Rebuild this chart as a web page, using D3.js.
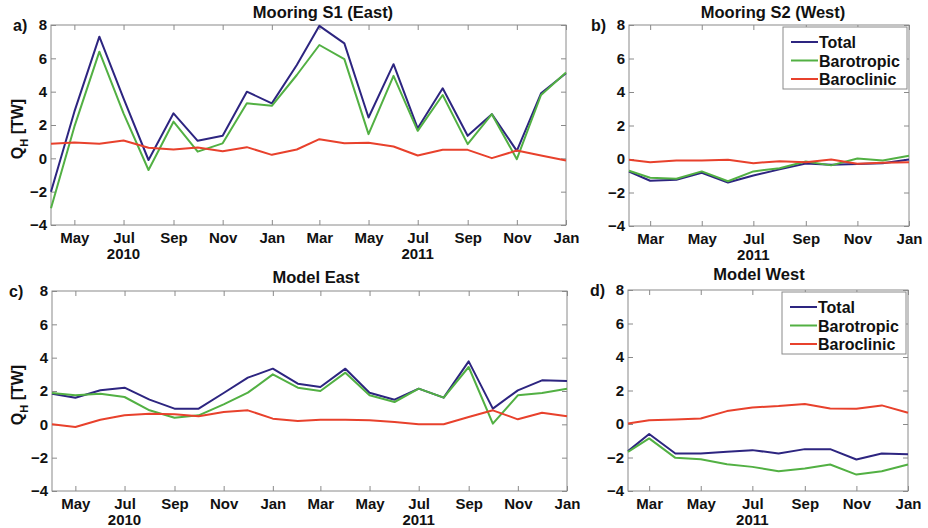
<!DOCTYPE html>
<html>
<head>
<meta charset="utf-8">
<script src="https://cdn.jsdelivr.net/npm/d3@7"></script>
<style>
body { margin: 0; background: #fff; }
text { font-family: "Liberation Sans", Arial, sans-serif; font-weight: bold; fill: #111; }
</style>
</head>
<body>
<div id="viz"></div>
<script>
var width = 928
var height = 528

// dates of the monthly points (first point is the start of the record)
var eastDates = ["2010-04-02", "2010-05-01", "2010-06-01", "2010-07-01", "2010-08-01", "2010-09-01",
    "2010-10-01", "2010-11-01", "2010-12-01", "2011-01-01", "2011-02-01", "2011-03-01", "2011-04-01",
    "2011-05-01", "2011-06-01", "2011-07-01", "2011-08-01", "2011-09-01", "2011-10-01", "2011-11-01",
    "2011-12-01", "2012-01-01"];
var westDates = ["2011-02-04", "2011-03-01", "2011-04-01", "2011-05-01", "2011-06-01", "2011-07-01",
    "2011-08-01", "2011-09-01", "2011-10-01", "2011-11-01", "2011-12-01", "2012-01-01"];

// tick positions and labels
var eastTicks = ["2010-05-01", "2010-07-01", "2010-09-01", "2010-11-01", "2011-01-01", "2011-03-01",
    "2011-05-01", "2011-07-01", "2011-09-01", "2011-11-01", "2012-01-01"];
var westTicks = ["2011-03-01", "2011-05-01", "2011-07-01", "2011-09-01", "2011-11-01", "2012-01-01"];
var eastYearTicks = ["2010-07-01", "2011-07-01"];
var eastYears = ["2010", "2011"];
var westYearTicks = ["2011-07-01"];
var westYears = ["2011"];
var yTicks = [-4, -2, 0, 2, 4, 6, 8];

var seriesNames = ["Total", "Barotropic", "Baroclinic"];
var seriesColors = ["#2d2580", "#52b043", "#e8412c"];

// a) Mooring S1 (East)
var s1Total = [-2.0, 2.8, 7.3, 3.6, -0.1, 2.7, 1.05, 1.35, 4.0, 3.3, 5.6, 7.95, 6.9, 2.45, 5.65, 1.8, 4.2, 1.35, 2.65, 0.45, 3.9, 5.1];
var s1Baro = [-3.0, 1.9, 6.4, 2.7, -0.7, 2.2, 0.4, 0.9, 3.3, 3.15, 5.0, 6.8, 5.95, 1.45, 4.95, 1.65, 3.8, 0.85, 2.65, -0.05, 3.8, 5.15];
var s1Clin = [0.87, 0.95, 0.87, 1.07, 0.63, 0.53, 0.65, 0.43, 0.67, 0.21, 0.53, 1.15, 0.91, 0.93, 0.71, 0.17, 0.51, 0.51, 0.01, 0.47, 0.17, -0.13];

// b) Mooring S2 (West)
var s2Total = [-0.75, -1.3, -1.24, -0.82, -1.4, -0.98, -0.62, -0.27, -0.35, -0.3, -0.25, -0.03];
var s2Baro = [-0.7, -1.12, -1.18, -0.74, -1.33, -0.74, -0.55, -0.15, -0.38, 0.03, -0.09, 0.2];
var s2Clin = [-0.05, -0.19, -0.09, -0.09, -0.05, -0.25, -0.13, -0.19, -0.03, -0.29, -0.23, -0.19];

// c) Model East
var mEastTotal = [1.84, 1.6, 2.04, 2.2, 1.48, 0.94, 0.94, 1.88, 2.8, 3.34, 2.44, 2.24, 3.34, 1.9, 1.48, 2.14, 1.6, 3.78, 0.94, 2.04, 2.64, 2.6];
var mEastBaro = [1.88, 1.74, 1.84, 1.64, 0.84, 0.4, 0.54, 1.2, 1.9, 3.0, 2.2, 2.0, 3.1, 1.74, 1.34, 2.14, 1.6, 3.44, 0.04, 1.74, 1.88, 2.14];
var mEastClin = [0, -0.16, 0.28, 0.54, 0.64, 0.6, 0.48, 0.74, 0.84, 0.34, 0.2, 0.28, 0.28, 0.24, 0.14, 0, 0, 0.44, 0.84, 0.3, 0.7, 0.48];

// d) Model West
var mWestTotal = [-1.62, -0.6, -1.76, -1.76, -1.66, -1.56, -1.76, -1.5, -1.5, -2.12, -1.76, -1.8];
var mWestBaro = [-1.66, -0.86, -2.02, -2.1, -2.4, -2.56, -2.82, -2.66, -2.42, -3.02, -2.82, -2.42];
var mWestClin = [0.03, 0.23, 0.27, 0.33, 0.77, 0.99, 1.07, 1.19, 0.93, 0.91, 1.11, 0.67];

var parse = d3.timeParse("%Y-%m-%d");

var svg = d3.select("#viz")
    .append("svg")
    .attr("width", width)
    .attr("height", height);

var panels = [
    {label: "a)", title: "Mooring S1 (East)", left: 51, right: 566, top: 25, bottom: 225,
        dates: eastDates, ticks: eastTicks, yearTicks: eastYearTicks, years: eastYears,
        series: [s1Total, s1Baro, s1Clin], titleX: 323, titleY: 18, labelX: 13, labelY: 31,
        ylabel: true, legend: false},
    {label: "b)", title: "Mooring S2 (West)", left: 629, right: 909, top: 25, bottom: 226,
        dates: westDates, ticks: westTicks, yearTicks: westYearTicks, years: westYears,
        series: [s2Total, s2Baro, s2Clin], titleX: 773, titleY: 18, labelX: 591, labelY: 31,
        ylabel: false, legend: true},
    {label: "c)", title: "Model East", left: 52, right: 567, top: 291, bottom: 491,
        dates: eastDates, ticks: eastTicks, yearTicks: eastYearTicks, years: eastYears,
        series: [mEastTotal, mEastBaro, mEastClin], titleX: 316, titleY: 283, labelX: 9, labelY: 297,
        ylabel: true, legend: false},
    {label: "d)", title: "Model West", left: 628, right: 908, top: 290, bottom: 491,
        dates: westDates, ticks: westTicks, yearTicks: westYearTicks, years: westYears,
        series: [mWestTotal, mWestBaro, mWestClin], titleX: 759, titleY: 280, labelX: 590, labelY: 296,
        ylabel: false, legend: true}
];

panels.forEach(function (p) {
    draw_panel(p);
});

function draw_panel(p) {
    var dates = p.dates.map(parse);
    var x = d3.scaleTime()
        .domain([dates[0], dates[dates.length - 1]])
        .range([p.left, p.right]);
    var y = d3.scaleLinear()
        .domain([-4, 8])
        .range([p.bottom, p.top]);
    var g = svg.append("g");

    // ticks, inward on all four sides
    var tickDates = p.ticks.map(parse);
    g.append("g")
        .attr("class", "axis")
        .attr("transform", "translate(0," + p.bottom + ")")
        .call(d3.axisBottom(x).tickValues(tickDates).tickSize(-5).tickPadding(7)
            .tickFormat(d3.timeFormat("%b")));
    g.append("g")
        .attr("class", "axis")
        .attr("transform", "translate(0," + p.top + ")")
        .call(d3.axisTop(x).tickValues(tickDates).tickSize(-5).tickFormat(""));
    g.append("g")
        .attr("class", "axis")
        .attr("transform", "translate(" + p.left + ",0)")
        .call(d3.axisLeft(y).tickValues(yTicks).tickSize(-5).tickPadding(4));
    g.append("g")
        .attr("class", "axis")
        .attr("transform", "translate(" + p.right + ",0)")
        .call(d3.axisRight(y).tickValues(yTicks).tickSize(-5).tickFormat(""));

    g.selectAll(".axis .domain").remove();
    g.selectAll(".axis line").attr("stroke", "#8a8a8a");
    g.selectAll(".axis text")
        .attr("font-size", 15)
        .attr("font-family", "Liberation Sans, Arial, sans-serif")
        .attr("font-weight", "bold")
        .attr("fill", "#111");

    g.append("rect")
        .attr("x", p.left)
        .attr("y", p.top)
        .attr("width", p.right - p.left)
        .attr("height", p.bottom - p.top)
        .attr("fill", "none")
        .attr("stroke", "#8a8a8a")
        .attr("stroke-width", 1);

    // year under the July ticks
    p.yearTicks.forEach(function (d, i) {
        g.append("text")
            .attr("x", x(parse(d)))
            .attr("y", p.bottom + 34)
            .attr("text-anchor", "middle")
            .attr("font-size", 15)
            .text(p.years[i]);
    });

    // lines
    var line = d3.line()
        .x(function (d) { return x(d.date); })
        .y(function (d) { return y(d.v); });
    p.series.forEach(function (vals, k) {
        var pts = vals.map(function (v, i) { return {date: dates[i], v: v}; });
        g.append("path")
            .datum(pts)
            .attr("d", line)
            .attr("fill", "none")
            .attr("stroke", seriesColors[k])
            .attr("stroke-width", 2)
            .attr("stroke-linejoin", "round");
    });

    g.append("text")
        .attr("x", p.titleX)
        .attr("y", p.titleY)
        .attr("text-anchor", "middle")
        .attr("font-size", 16.5)
        .text(p.title);

    g.append("text")
        .attr("x", p.labelX)
        .attr("y", p.labelY)
        .attr("font-size", 16)
        .text(p.label);

    if (p.ylabel) {
        var yl = g.append("text")
            .attr("transform", "translate(23," + ((p.top + p.bottom) / 2 + 4) + ") rotate(-90)")
            .attr("text-anchor", "middle")
            .attr("font-size", 16);
        yl.append("tspan").text("Q");
        yl.append("tspan").attr("font-size", 11).attr("dy", 5).text("H");
        yl.append("tspan").attr("dy", -5).text(" [TW]");
    }

    if (p.legend) {
        var lx = p.left + 154, ly = p.top + 2;
        g.append("rect")
            .attr("x", lx)
            .attr("y", ly)
            .attr("width", 124)
            .attr("height", 62)
            .attr("fill", "#fff")
            .attr("stroke", "#8a8a8a");
        seriesNames.forEach(function (name, k) {
            var yy = ly + 15 + k * 18.5;
            g.append("line")
                .attr("x1", lx + 8)
                .attr("x2", lx + 35)
                .attr("y1", yy)
                .attr("y2", yy)
                .attr("stroke", seriesColors[k])
                .attr("stroke-width", 2);
            g.append("text")
                .attr("x", lx + 36)
                .attr("y", yy + 6)
                .attr("font-size", 16)
                .text(name);
        });
    }
}
</script>
</body>
</html>
